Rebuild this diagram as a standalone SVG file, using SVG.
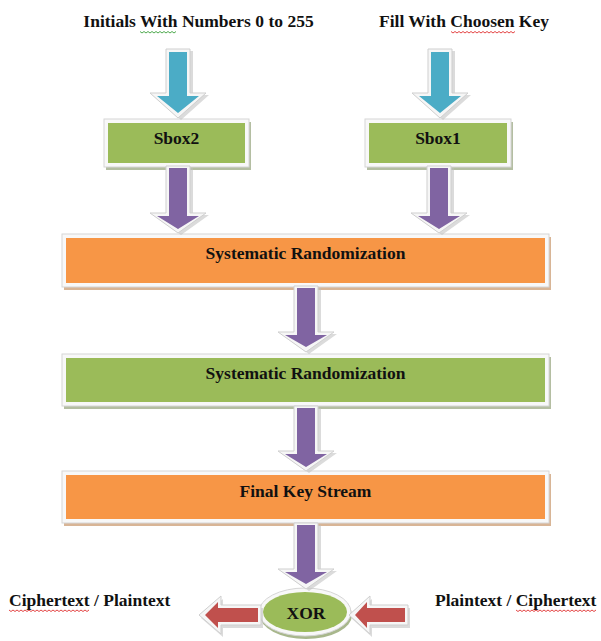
<svg xmlns="http://www.w3.org/2000/svg" width="601" height="641" viewBox="0 0 601 641">
<style>
text{font-family:"Liberation Serif","Times New Roman",serif;font-weight:bold;font-size:17.5px;fill:#111;}
.c{text-anchor:middle;}
.brd{fill:#f8f8f8;stroke:#d6d6d6;stroke-width:1;}
.sh{fill:#bdbdbd;opacity:.55;}
.ao{fill:#f6f6f6;stroke:#cfcfcf;stroke-width:1;}
.blue{fill:#4BACC6;}
.purple{fill:#8064A2;}
.red{fill:#C0504D;}
.green{fill:#9BBB59;}
.orange{fill:#F79646;}
.shO{fill:#d8b596;}
.shG{fill:#b4bea2;}
.wr{fill:none;stroke:#e03030;stroke-width:.9;}
.wg{fill:none;stroke:#3aa03a;stroke-width:.9;}
</style>
<rect width="601" height="641" fill="#ffffff"/>

<g id="label-initials"><text class="c" x="198.5" y="27">Initials With Numbers 0 to 255</text>
<path class="wg" d="M140,31.5 l2,1.5 l2,-1.5 l2,1.5 l2,-1.5 l2,1.5 l2,-1.5 l2,1.5 l2,-1.5 l2,1.5 l2,-1.5 l2,1.5 l2,-1.5 l2,1.5 l2,-1.5 l2,1.5 l2,-1.5 l2,1.5 l2,-1.5"/></g>
<g id="label-fill"><text class="c" x="464" y="27">Fill With Choosen Key</text>
<path class="wr" d="M451,31.5 l2,1.5 l2,-1.5 l2,1.5 l2,-1.5 l2,1.5 l2,-1.5 l2,1.5 l2,-1.5 l2,1.5 l2,-1.5 l2,1.5 l2,-1.5 l2,1.5 l2,-1.5 l2,1.5 l2,-1.5 l2,1.5 l2,-1.5 l2,1.5 l2,-1.5 l2,1.5 l2,-1.5 l2,1.5 l2,-1.5 l2,1.5 l2,-1.5 l2,1.5 l2,-1.5 l2,1.5 l2,-1.5 l2,1.5 l2,-1.5"/></g>

<g id="sbox2">
<rect class="shG" x="106" y="122" width="145" height="48"/>
<rect class="brd" x="104" y="119" width="145" height="48"/>
<rect class="green" x="108" y="123" width="137" height="40"/>
<text class="c" x="176.5" y="144">Sbox2</text>
</g>
<g id="sbox1">
<rect class="shG" x="367" y="122" width="146" height="48"/>
<rect class="brd" x="365" y="119" width="146" height="48"/>
<rect class="green" x="369" y="123" width="138" height="40"/>
<text class="c" x="438" y="144">Sbox1</text>
</g>
<g id="sysrand1">
<rect class="shO" x="64" y="237" width="487" height="53"/>
<rect class="brd" x="62" y="234" width="487" height="53"/>
<rect class="orange" x="66" y="238" width="479" height="45"/>
<text class="c" x="305.5" y="259">Systematic Randomization</text>
</g>
<g id="sysrand2">
<rect class="shG" x="64" y="357" width="487" height="52"/>
<rect class="brd" x="62" y="354" width="487" height="52"/>
<rect class="green" x="66" y="358" width="479" height="44"/>
<text class="c" x="305.5" y="379">Systematic Randomization</text>
</g>
<g id="finalkey">
<rect class="shO" x="64" y="474" width="487" height="52"/>
<rect class="brd" x="62" y="471" width="487" height="52"/>
<rect class="orange" x="66" y="475" width="479" height="44"/>
<text class="c" x="305.5" y="497">Final Key Stream</text>
</g>
<g id="xor">
<ellipse cx="306" cy="615" rx="46" ry="24" fill="#a8b78c"/>
<ellipse class="brd" cx="305" cy="612" rx="46" ry="24"/>
<ellipse class="green" cx="305" cy="612" rx="42" ry="20"/>
<text class="c" x="306" y="619">XOR</text>
</g>
<g id="label-out"><text x="9" y="606">Ciphertext / Plaintext</text>
<path class="wr" d="M9,610 l2,1.5 l2,-1.5 l2,1.5 l2,-1.5 l2,1.5 l2,-1.5 l2,1.5 l2,-1.5 l2,1.5 l2,-1.5 l2,1.5 l2,-1.5 l2,1.5 l2,-1.5 l2,1.5 l2,-1.5 l2,1.5 l2,-1.5 l2,1.5 l2,-1.5 l2,1.5 l2,-1.5 l2,1.5 l2,-1.5 l2,1.5 l2,-1.5 l2,1.5 l2,-1.5 l2,1.5 l2,-1.5 l2,1.5 l2,-1.5 l2,1.5 l2,-1.5 l2,1.5 l2,-1.5 l2,1.5 l2,-1.5 l2,1.5 l2,-1.5"/></g>
<g id="label-in"><text x="435" y="606">Plaintext / Ciphertext</text>
<path class="wr" d="M516,610 l2,1.5 l2,-1.5 l2,1.5 l2,-1.5 l2,1.5 l2,-1.5 l2,1.5 l2,-1.5 l2,1.5 l2,-1.5 l2,1.5 l2,-1.5 l2,1.5 l2,-1.5 l2,1.5 l2,-1.5 l2,1.5 l2,-1.5 l2,1.5 l2,-1.5 l2,1.5 l2,-1.5 l2,1.5 l2,-1.5 l2,1.5 l2,-1.5 l2,1.5 l2,-1.5 l2,1.5 l2,-1.5 l2,1.5 l2,-1.5 l2,1.5 l2,-1.5 l2,1.5 l2,-1.5 l2,1.5 l2,-1.5 l2,1.5 l2,-1.5"/></g>

<g id="connectors">
<!-- blue arrows -->
<path class="sh" transform="translate(3,2)" d="M166,49 H190 V93 H206 L178,118 L150,93 H166 Z"/>
<path class="ao" d="M166,49 H190 V93 H206 L178,118 L150,93 H166 Z"/>
<path class="blue" d="M169,52 H187 V96 H199 L178,113 L157,96 H169 Z"/>
<path class="sh" transform="translate(3,2)" d="M428,49 H452 V93 H468 L440,118 L412,93 H428 Z"/>
<path class="ao" d="M428,49 H452 V93 H468 L440,118 L412,93 H428 Z"/>
<path class="blue" d="M431,52 H449 V96 H461 L440,113 L419,96 H431 Z"/>
<!-- purple from sboxes -->
<path class="sh" transform="translate(3,2)" d="M166,166 H190 V213 H206 L178,233 L150,213 H166 Z"/>
<path class="ao" d="M166,166 H190 V213 H206 L178,233 L150,213 H166 Z"/>
<path class="purple" d="M169,168 H187 V216 H199 L178,229 L157,216 H169 Z"/>
<path class="sh" transform="translate(3,2)" d="M427,166 H451 V213 H467 L439,233 L411,213 H427 Z"/>
<path class="ao" d="M427,166 H451 V213 H467 L439,233 L411,213 H427 Z"/>
<path class="purple" d="M430,168 H448 V216 H460 L439,229 L418,216 H430 Z"/>
<!-- middle purple arrows -->
<path class="sh" transform="translate(3,2)" d="M294,286 H318 V332 H334 L306,352 L278,332 H294 Z"/>
<path class="ao" d="M294,286 H318 V332 H334 L306,352 L278,332 H294 Z"/>
<path class="purple" d="M297,288 H315 V335 H327 L306,347 L285,335 H297 Z"/>
<path class="sh" transform="translate(3,2)" d="M294,406 H318 V451 H334 L306,471 L278,451 H294 Z"/>
<path class="ao" d="M294,406 H318 V451 H334 L306,471 L278,451 H294 Z"/>
<path class="purple" d="M297,408 H315 V454 H327 L306,467 L285,454 H297 Z"/>
<path class="sh" transform="translate(3,2)" d="M294,523 H318 V569 H334 L306,589 L278,569 H294 Z"/>
<path class="ao" d="M294,523 H318 V569 H334 L306,589 L278,569 H294 Z"/>
<path class="purple" d="M297,525 H315 V572 H327 L306,584 L285,572 H297 Z"/>
<!-- red arrows -->
<path class="sh" transform="translate(2,3)" d="M261,605 V625 H221 V634 L199,615 L221,596 V605 Z"/>
<path class="ao" d="M261,605 V625 H221 V634 L199,615 L221,596 V605 Z"/>
<path class="red" d="M258,608 V622 H218 V628 L205,615 L218,602 V608 Z"/>
<path class="sh" transform="translate(2,3)" d="M408,605 V625 H370 V634 L349,615 L370,596 V605 Z"/>
<path class="ao" d="M408,605 V625 H370 V634 L349,615 L370,596 V605 Z"/>
<path class="red" d="M405,608 V622 H367 V628 L355,615 L367,602 V608 Z"/>
</g>
</svg>
